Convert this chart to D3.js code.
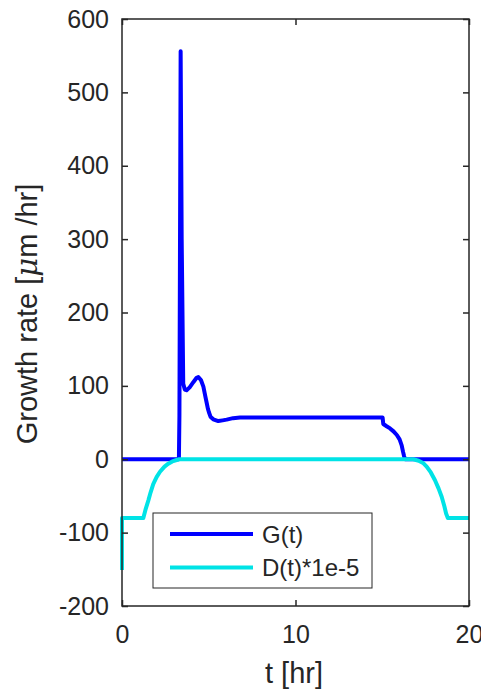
<!DOCTYPE html>
<html>
<head>
<meta charset="utf-8">
<script src="https://cdn.jsdelivr.net/npm/d3@7"></script>
<style>
  body { margin: 0; background: #fff; }
  text { font-family: "Liberation Sans", Arial, sans-serif; fill: #262626; }
</style>
</head>
<body>
<script>
// G(t) growth rate
var gT = [0, 3.28, 3.31, 3.38, 3.44, 3.53, 3.62, 3.72, 3.9, 4.11, 4.3, 4.4, 4.55, 4.69, 4.8, 4.88, 4.95, 5.01, 5.1, 5.26, 5.55, 5.8, 6.03, 6.4, 6.8, 8, 10, 12, 14, 15.02, 15.06, 15.25, 15.45, 15.65, 15.84, 16.0, 16.12, 16.2, 16.25, 16.31, 20];
var gV = [0, 0, 60, 556, 300, 103, 95, 94, 98, 105, 111, 112, 108, 99, 86, 77, 69, 64, 58, 54.5, 52, 53, 54, 56, 57, 57, 57, 57, 57, 57, 48, 45, 42, 38, 33, 27, 19, 10, 5, 0, 0];
// D(t)*1e-5
var dT = [0, 0, 1.23, 1.35, 1.52, 1.65, 1.8, 2.0, 2.19, 2.45, 2.67, 2.9, 3.15, 3.3, 16.79, 17.1, 17.35, 17.56, 17.8, 18.04, 18.25, 18.43, 18.58, 18.68, 18.78, 20];
var dV = [-151, -80, -80, -69, -56, -45, -34, -24, -17, -10, -6, -3, -1, 0, 0, -2, -5, -10, -18, -28.6, -40, -51.4, -64, -74, -80, -80];

var xTicks = [0, 10, 20];
var yTicks = [-200, -100, 0, 100, 200, 300, 400, 500, 600];
var legendLabels = ["G(t)", "D(t)*1e-5"];
var colors = ["#0000ff", "#00e3e6"];

var width = 481, height = 690;
var margin = {top: 19, right: 12, bottom: 84, left: 122};

var svg = d3.select("body").append("svg")
    .attr("width", width)
    .attr("height", height);

var x = d3.scaleLinear().domain([0, 20]).range([margin.left, width - margin.right]);
var y = d3.scaleLinear().domain([-200, 600]).range([height - margin.bottom, margin.top]);

var line = d3.line()
    .x(function(d) { return x(d[0]); })
    .y(function(d) { return y(d[1]); });

var gData = gT.map(function(t, i) { return [t, gV[i]]; });
var dData = dT.map(function(t, i) { return [t, dV[i]]; });

svg.append("path")
    .datum(gData)
    .attr("fill", "none")
    .attr("stroke", colors[0])
    .attr("stroke-width", 4)
    .attr("stroke-linejoin", "round")
    .attr("d", line);

svg.append("path")
    .datum(dData)
    .attr("fill", "none")
    .attr("stroke", colors[1])
    .attr("stroke-width", 4)
    .attr("stroke-linejoin", "round")
    .attr("d", line);

// box + ticks
var tickLen = 6;
svg.append("rect")
    .attr("x", x(0)).attr("y", y(600))
    .attr("width", x(20) - x(0)).attr("height", y(-200) - y(600))
    .attr("fill", "none").attr("stroke", "#262626").attr("stroke-width", 1.5);

var fmt = function(d) { return String(d); };

svg.append("g").attr("transform", "translate(0," + y(-200) + ")")
    .call(d3.axisBottom(x).tickValues(xTicks).tickSizeInner(-tickLen).tickSizeOuter(0).tickPadding(19).tickFormat(fmt));
svg.append("g").attr("transform", "translate(0," + y(600) + ")")
    .call(d3.axisTop(x).tickValues(xTicks).tickSizeInner(-tickLen).tickSizeOuter(0).tickFormat(""));
svg.append("g").attr("transform", "translate(" + x(0) + ",0)")
    .call(d3.axisLeft(y).tickValues(yTicks).tickSizeInner(-tickLen).tickSizeOuter(0).tickPadding(13).tickFormat(fmt));
svg.append("g").attr("transform", "translate(" + x(20) + ",0)")
    .call(d3.axisRight(y).tickValues(yTicks).tickSizeInner(-tickLen).tickSizeOuter(0).tickFormat(""));

svg.selectAll(".domain").remove();
svg.selectAll(".tick line").attr("stroke", "#262626").attr("stroke-width", 1.5);
svg.selectAll(".tick text")
    .style("font-family", "'Liberation Sans', Arial, sans-serif")
    .style("font-size", "25px")
    .attr("fill", "#262626");

// axis labels
svg.append("text")
    .attr("x", 294).attr("y", 683)
    .attr("text-anchor", "middle")
    .style("font-size", "29px")
    .text("t [hr]");

var yl = svg.append("text")
    .attr("transform", "translate(37,314)rotate(-90)")
    .attr("text-anchor", "middle")
    .style("font-size", "29px");
yl.append("tspan").text("Growth rate [");
yl.append("tspan").style("font-style", "italic").style("font-family", "'DejaVu Serif', serif").text("\u03bc");
yl.append("tspan").text("m /hr]");

// legend
var legend = svg.append("g");
legend.append("rect")
    .attr("x", 153).attr("y", 513)
    .attr("width", 219).attr("height", 75)
    .attr("fill", "#fff").attr("stroke", "#262626").attr("stroke-width", 1);

var item = legend.selectAll(".item")
    .data(legendLabels)
    .enter().append("g")
    .attr("transform", function(d, i) { return "translate(0," + (534 + i * 33.5) + ")"; });

item.append("line")
    .attr("x1", 170).attr("x2", 253)
    .attr("stroke", function(d, i) { return colors[i]; })
    .attr("stroke-width", 4);

item.append("text")
    .attr("x", 262).attr("dy", "0.36em")
    .style("font-size", "24px")
    .text(function(d) { return d; });
</script>
</body>
</html>
